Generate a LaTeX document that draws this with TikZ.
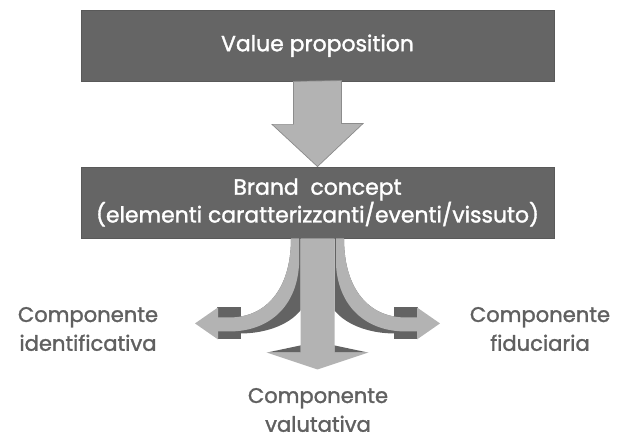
\documentclass[tikz,border=0pt]{standalone}
\usepackage{fontspec}
\setmainfont{Poppins}[FakeBold=1.5]
\usetikzlibrary{calc}
\definecolor{boxgray}{HTML}{656565}
\definecolor{arrowgray}{HTML}{B3B3B3}
\definecolor{shadegray}{HTML}{636363}
\definecolor{labelgray}{HTML}{606060}

\begin{document}
\begin{tikzpicture}[x=0.025cm,y=-0.025cm,
  box/.style={fill=boxgray,draw=black!65,line width=0.6pt,text=white,minimum width=11.825cm,align=center,font=\fontsize{15.6}{16.4}\selectfont},
  comp/.style={text=labelgray,align=center,inner sep=1pt,font=\fontsize{15}{20.5}\selectfont},
  light/.style={fill=arrowgray},
  dark/.style={fill=shadegray}]
\useasboundingbox (0,0) rectangle (618,438);
\node[box,minimum height=1.76cm] (vp) at (317.5,45.75) {Value proposition};
\node[box,minimum height=1.775cm] (bc) at (317.5,202.5) {Brand\ \ concept\\(elementi caratterizzanti/eventi/vissuto)};
\node[comp] (ci) at (88,329) {Componente\\identificativa};
\node[comp] (cf) at (540,329) {Componente\\fiduciaria};
\node[comp] (cv) at (318,410) {Componente\\valutativa};
\draw[light,draw=black!45,line width=0.5pt] ($(vp.south)+(-24,0)$) -- ++(0,43) -- ++(-21.5,0) -- (bc.north)
  -- ++(45.5,-43) -- ++(-21.5,0) -- ++(0,-43) -- cycle;
\foreach \s in {1,-1}{
  \begin{scope}[shift={(bc.south)},xscale=\s]
    \fill[dark] (-26.5,0) .. controls (-26.5,52) and (-52.5,79) .. (-87.5,79) -- (-87.5,95) -- (-76,95)
      .. controls (-55,95) and (-30,88) .. (-17,72) -- (-17,0) -- cycle;
    \fill[dark] (-100.5,69) rectangle (-76.5,101);
    \fill[light] (-26.5,0) .. controls (-26.5,52) and (-52.5,79) .. (-87.5,79) -- (-99.5,79) -- (-99.5,93) -- (-87.5,93)
      .. controls (-52.5,93) and (-21.5,72) .. (-18.5,27) -- (-18.5,0) -- cycle;
    \fill[light] (-99.5,69) -- (-122.5,85) -- (-99.5,101) -- cycle;
  \end{scope}}
\fill[light] ($(bc.south)+(-17,0)$) -- ++(0,114) -- ++(-34,0) -- ($(bc.south)+(0,131)$) -- ++(51,-17) -- ++(-34,0) -- ++(0,-114) -- cycle;
\foreach \s in {1,-1}
  \fill[dark,shift={(bc.south)},xscale=\s] (-17,107) -- (-50,114) -- (-17,114) -- cycle;
\end{tikzpicture}
\end{document}
